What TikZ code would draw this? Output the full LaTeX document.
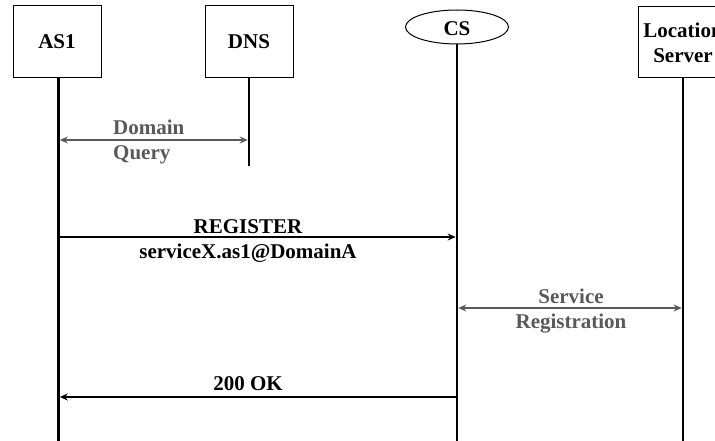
\documentclass[tikz,border=0pt]{standalone}
\usepackage{fontspec}
\setmainfont{Liberation Serif}
\usetikzlibrary{arrows.meta,positioning,shapes.geometric}
\definecolor{infoflow}{HTML}{595959}

\begin{document}
\begin{tikzpicture}[x=1pt,y=-1pt,
  entity/.style={draw,line width=1pt,fill=white,minimum width=88pt,minimum height=72pt,inner sep=0pt,align=center,font=\fontsize{21}{25}\selectfont\bfseries},
  lifeline/.style={line width=2.6pt},
  msg/.style={line width=2pt,shorten >=1.3pt,-{Stealth[length=8pt,width=7pt]}},
  infomsg/.style={line width=2pt,draw=infoflow,shorten >=1.3pt,shorten <=1.3pt,{Stealth[length=8pt,width=7pt]}-{Stealth[length=8pt,width=7pt]}},
  lbl/.style={inner sep=0pt,font=\fontsize{21}{25}\selectfont\bfseries}]
  \useasboundingbox (0,0) rectangle (715,441);

  % participants
  \node[entity] (as1) at (57,42) {AS1};
  \node[entity] (dns) at (249,42) {DNS};
  \node[draw,ellipse,line width=1pt,minimum width=103pt,minimum height=34pt,inner sep=0pt,text height=18pt,text depth=0pt,font=\fontsize{21}{25}\selectfont\bfseries] (cs) at (457,27) {CS};
  \node[entity,minimum width=90pt,minimum height=71pt] (loc) at (683,42.5) {Location\\Server};

  % lifelines
  \coordinate (as1 end) at (58.5,441);
  \coordinate (dns end) at (249,166);
  \coordinate (cs end) at (457,441);
  \coordinate (loc end) at (683,441);
  \draw[lifeline] (as1.south -| as1 end) -- (as1 end);
  \draw[lifeline] (dns.south) -- (dns end);
  \draw[lifeline] (cs.south) -- (cs end);
  \draw[lifeline] (loc.south) -- (loc end);

  % domain lookup
  \draw[infomsg] (as1 end |- 0,140) -- (dns end |- 0,140);
  \node[lbl,text=infoflow,anchor=base west] (dq1) at (113,135) {Domain};
  \node[lbl,text=infoflow,anchor=base west] (dq2) at (113,160) {Query};

  % registration
  \draw[msg] (as1 end |- 0,237) -- (cs end |- 0,237);
  \node[lbl,anchor=base] (reg1) at (248,233) {REGISTER};
  \node[lbl,anchor=base] (reg2) at (248,258) {serviceX.as1@DomainA};

  \draw[infomsg] (cs end |- 0,308) -- (loc end |- 0,308);
  \node[lbl,text=infoflow,anchor=base] (sr1) at (571,303) {Service};
  \node[lbl,text=infoflow,anchor=base] (sr2) at (571,328) {Registration};

  \draw[msg] (cs end |- 0,397) -- (as1 end |- 0,397);
  \node[lbl,anchor=base] (ok) at (248,390) {200 OK};
\end{tikzpicture}
\end{document}
